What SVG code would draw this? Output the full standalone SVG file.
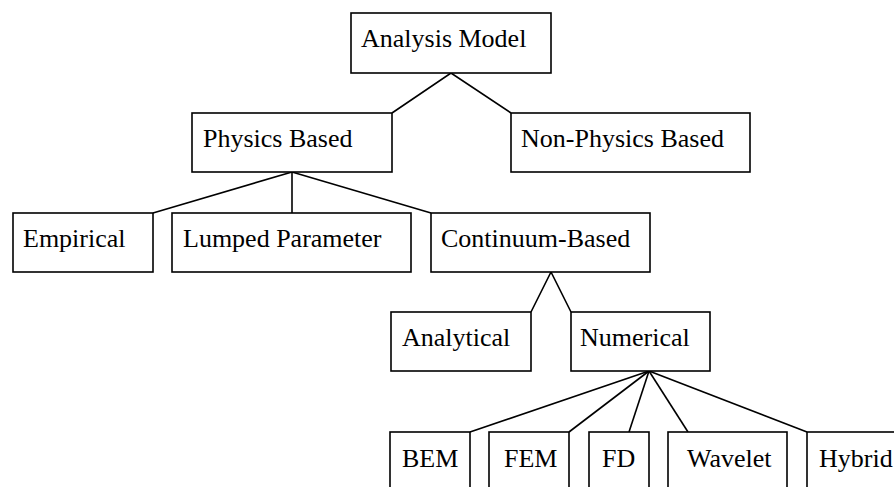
<svg xmlns="http://www.w3.org/2000/svg" width="894" height="487" viewBox="0 0 894 487">
<style>
.box{fill:#fff;stroke:#000;stroke-width:1.6}
.t{font-family:"Liberation Serif","Times New Roman",serif;font-size:26px;fill:#000}
.c{stroke:#000;stroke-width:1.6;fill:none}
</style>
<rect width="894" height="487" fill="#fff"/>
<g id="connectors">
<polyline class="c" points="392,113 451,73 511,113"/>
<line class="c" x1="292" y1="172" x2="153" y2="213"/>
<line class="c" x1="292" y1="172" x2="292" y2="213"/>
<line class="c" x1="292" y1="172" x2="431" y2="213"/>
<polyline class="c" points="531,312 551,272 571,312"/>
<line class="c" x1="649" y1="371" x2="470" y2="432"/>
<line class="c" x1="649" y1="371" x2="569" y2="432"/>
<line class="c" x1="649" y1="371" x2="629" y2="432"/>
<line class="c" x1="649" y1="371" x2="688" y2="432"/>
<line class="c" x1="649" y1="371" x2="807" y2="432"/>
</g>
<g id="analysis-model"><rect class="box" x="351" y="13" width="200" height="60"/><text class="t" x="361" y="47">Analysis Model</text></g>
<g id="physics-based"><rect class="box" x="192" y="113" width="200" height="59"/><text class="t" x="203" y="147">Physics Based</text></g>
<g id="non-physics-based"><rect class="box" x="511" y="113" width="239" height="59"/><text class="t" x="521" y="147">Non-Physics Based</text></g>
<g id="empirical"><rect class="box" x="13" y="213" width="140" height="59"/><text class="t" x="23" y="247">Empirical</text></g>
<g id="lumped-parameter"><rect class="box" x="172" y="213" width="239" height="59"/><text class="t" x="183" y="247">Lumped Parameter</text></g>
<g id="continuum-based"><rect class="box" x="431" y="213" width="219" height="59"/><text class="t" x="441" y="247">Continuum-Based</text></g>
<g id="analytical"><rect class="box" x="391" y="312" width="140" height="59"/><text class="t" x="402" y="346">Analytical</text></g>
<g id="numerical"><rect class="box" x="571" y="312" width="139" height="59"/><text class="t" x="580" y="346">Numerical</text></g>
<g id="bem"><rect class="box" x="390" y="432" width="80" height="70"/><text class="t" x="402" y="467">BEM</text></g>
<g id="fem"><rect class="box" x="489" y="432" width="80" height="70"/><text class="t" x="504" y="467">FEM</text></g>
<g id="fd"><rect class="box" x="589" y="432" width="60" height="70"/><text class="t" x="602" y="467">FD</text></g>
<g id="wavelet"><rect class="box" x="668" y="432" width="119" height="70"/><text class="t" x="687" y="467">Wavelet</text></g>
<g id="hybrid"><rect class="box" x="807" y="432" width="100" height="70"/><text class="t" x="819" y="467">Hybrid</text></g>
</svg>
